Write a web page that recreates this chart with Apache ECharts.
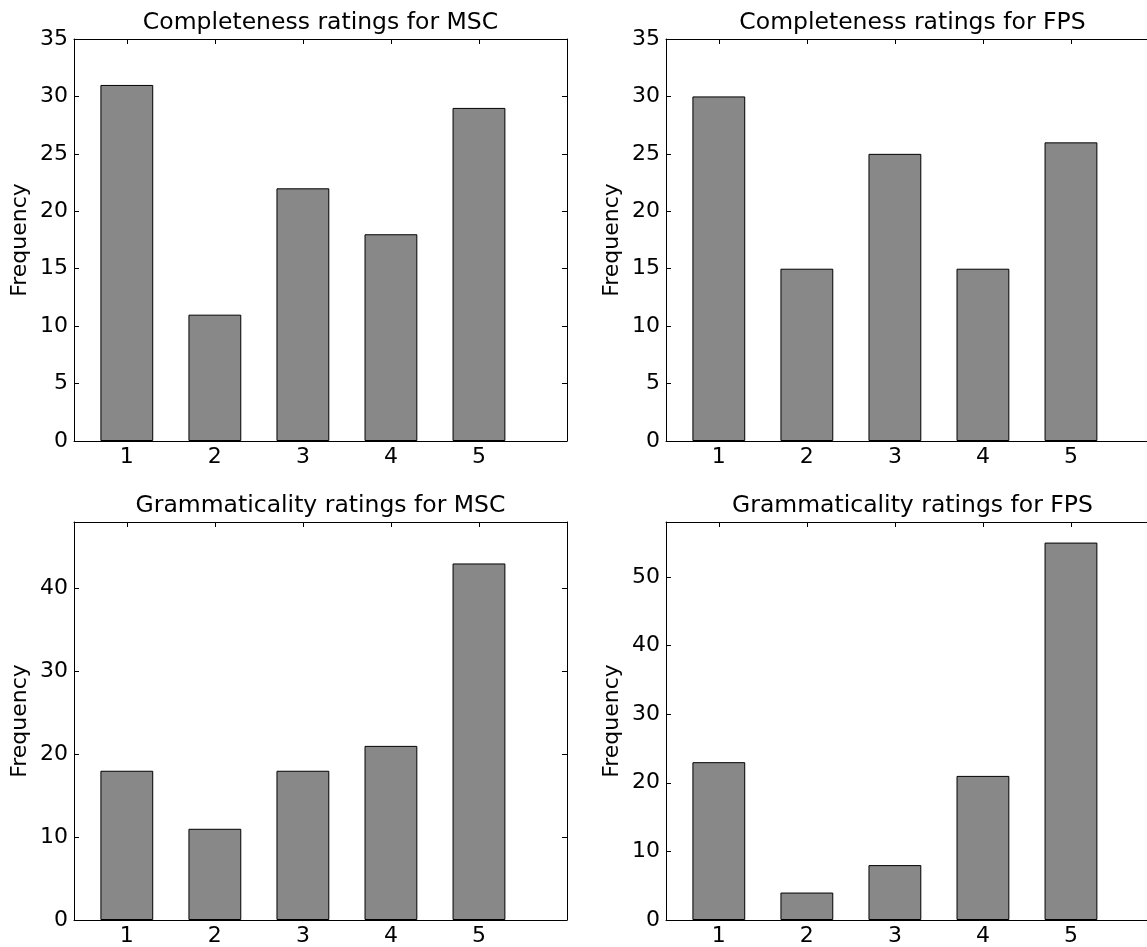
<!DOCTYPE html>
<html>
<head>
<meta charset="utf-8">
<script src="https://cdn.jsdelivr.net/npm/echarts@6/dist/echarts.min.js"></script>
<style>
html,body{margin:0;padding:0;background:#fff;overflow:hidden;width:1147px;height:947px;}
#chart{width:1170px;height:947px;}
</style>
</head>
<body>
<div id="chart"></div>
<script>
// ---- data ----
const ratings = [1, 2, 3, 4, 5];
const completenessMSC = [31, 11, 22, 18, 29];
const completenessFPS = [30, 15, 25, 15, 26];
const grammaticalityMSC = [18, 11, 18, 21, 43];
const grammaticalityFPS = [23, 4, 8, 21, 55];
const titles = [
  'Completeness ratings for MSC',
  'Completeness ratings for FPS',
  'Grammaticality ratings for MSC',
  'Grammaticality ratings for FPS'
];
const yTicksCompleteness = [0, 5, 10, 15, 20, 25, 30, 35];
const yTicksGramMSC = [0, 10, 20, 30, 40];
const yTicksGramFPS = [0, 10, 20, 30, 40, 50];
const yLabel = 'Frequency';

// ---- layout ----
const FONT = 'DejaVu Sans';
const xMin = 0.4, xMax = 6.0, barUnits = 0.6;
const panels = [
  {left: 74,  top: 39,  width: 493, height: 402, values: completenessMSC,   yMax: 35, yTicks: yTicksCompleteness},
  {left: 666, top: 39,  width: 493, height: 402, values: completenessFPS,   yMax: 35, yTicks: yTicksCompleteness},
  {left: 74,  top: 522, width: 493, height: 402, values: grammaticalityMSC, yMax: 48, yTicks: yTicksGramMSC},
  {left: 666, top: 522, width: 493, height: 402, values: grammaticalityFPS, yMax: 58, yTicks: yTicksGramFPS}
];

const W = 1170, H = 947;
const grid = [], xAxis = [], yAxis = [], series = [];
const lineStyle = {color: '#000', width: 1};
const tickStyle = {show: true, inside: true, length: 5, lineStyle: {color: '#000', width: 1}};

panels.forEach((p, i) => {
  grid.push({left: p.left, top: p.top, width: p.width, height: p.height, containLabel: false});
  // bottom x axis
  xAxis.push({
    type: 'value', gridIndex: i, position: 'bottom', min: xMin, max: xMax,
    axisLine: {show: true, onZero: false, lineStyle},
    axisTick: Object.assign({customValues: ratings}, tickStyle),
    axisLabel: {customValues: ratings, color: '#000', fontFamily: FONT, fontSize: 22, margin: 5},
    splitLine: {show: false}
  });
  // top x axis (frame + title)
  xAxis.push({
    type: 'value', gridIndex: i, position: 'top', min: xMin, max: xMax,
    name: titles[i], nameLocation: 'middle', nameGap: 4,
    nameTextStyle: {color: '#000', fontFamily: FONT, fontSize: 23.5},
    axisLine: {show: true, onZero: false, lineStyle},
    axisTick: Object.assign({customValues: ratings}, tickStyle),
    axisLabel: {show: false},
    splitLine: {show: false}
  });
  // left y axis
  yAxis.push({
    type: 'value', gridIndex: i, position: 'left', min: 0, max: p.yMax,
    name: yLabel, nameLocation: 'middle', nameRotate: 90, nameGap: 43,
    nameTextStyle: {color: '#000', fontFamily: FONT, fontSize: 22},
    axisLine: {show: true, onZero: false, lineStyle},
    axisTick: Object.assign({customValues: p.yTicks}, tickStyle),
    axisLabel: {customValues: p.yTicks, color: '#000', fontFamily: FONT, fontSize: 22, margin: 6},
    splitLine: {show: false}
  });
  // right y axis (frame)
  yAxis.push({
    type: 'value', gridIndex: i, position: 'right', min: 0, max: p.yMax,
    axisLine: {show: true, onZero: false, lineStyle},
    axisTick: Object.assign({customValues: p.yTicks}, tickStyle),
    axisLabel: {show: false},
    splitLine: {show: false}
  });
  series.push({
    type: 'bar',
    xAxisIndex: i * 2, yAxisIndex: i * 2,
    barWidth: p.width / (xMax - xMin) * barUnits,
    itemStyle: {color: '#888888', borderColor: '#000', borderWidth: 1},
    silent: true,
    data: ratings.map((r, k) => [r, p.values[k]])
  });
});

const chart = echarts.init(document.getElementById('chart'), null, {renderer: 'canvas', width: W, height: H});
chart.setOption({
  animation: false,
  backgroundColor: '#fff',
  textStyle: {fontFamily: FONT},
  grid, xAxis, yAxis, series
});
</script>
</body>
</html>
